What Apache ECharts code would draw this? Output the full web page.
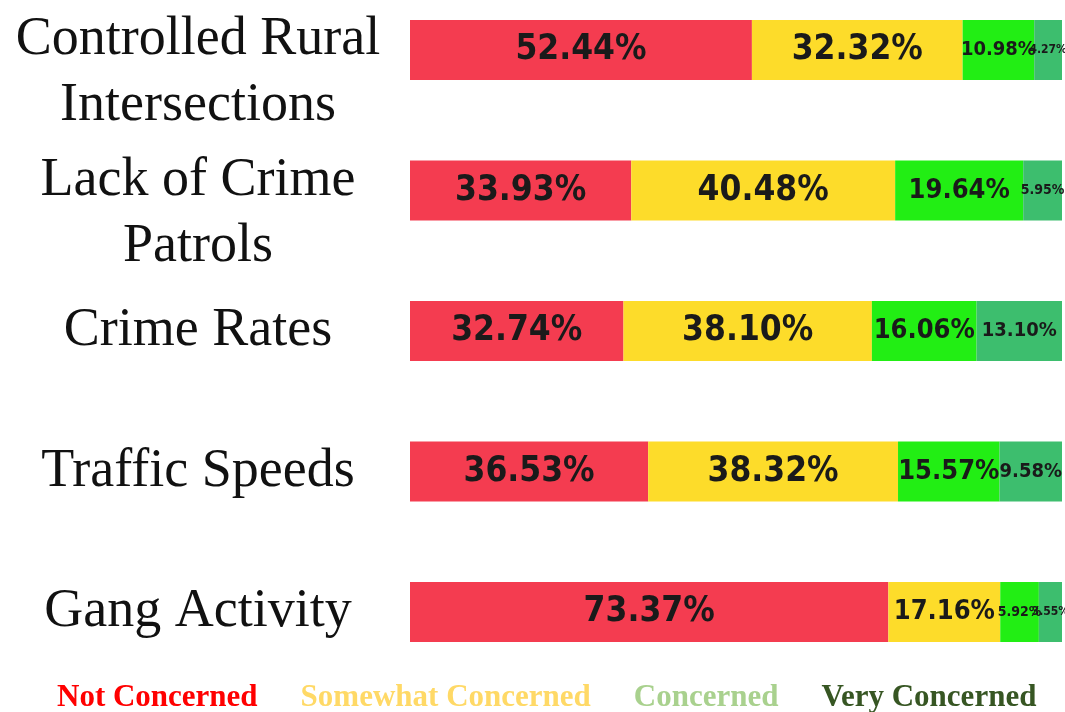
<!DOCTYPE html>
<html>
<head>
<meta charset="utf-8">
<script src="https://cdn.jsdelivr.net/npm/echarts@6/dist/echarts.min.js"></script>
<style>
html,body{margin:0;padding:0;background:#fff;}
#chart{width:1065px;height:712px;}
</style>
</head>
<body>
<div id="chart"></div>
<script>
const categories = ['Controlled Rural\nIntersections', 'Lack of Crime\nPatrols', 'Crime Rates', 'Traffic Speeds', 'Gang Activity'];
const seriesNames = ['Not Concerned', 'Somewhat Concerned', 'Concerned', 'Very Concerned'];
const notConcerned = [52.44, 33.93, 32.74, 36.53, 73.37];
const somewhatConcerned = [32.32, 40.48, 38.10, 38.32, 17.16];
const concerned = [10.98, 19.64, 16.06, 15.57, 5.92];
const veryConcerned = [4.27, 5.95, 13.10, 9.58, 3.55];

const barColors = ['#F43C50', '#FDDC2A', '#22EE14', '#3DBE6E'];
const legendColors = ['#FF0000', '#FFD966', '#A9D18E', '#375623'];
const labelFont = "'DejaVu Sans Condensed', 'DejaVu Sans', sans-serif";
const catFont = "'Liberation Serif', 'DejaVu Serif', serif";

function labelSize(v) {
  if (v >= 30) return 35;
  if (v >= 15) return 27;
  if (v >= 9) return 20;
  if (v >= 5) return 14;
  return 12;
}

const allData = [notConcerned, somewhatConcerned, concerned, veryConcerned];

const chart = echarts.init(document.getElementById('chart'), null, {renderer: 'canvas'});
chart.setOption({
  animation: false,
  backgroundColor: '#fff',
  grid: {left: 410, right: 3, top: 50, bottom: 100, containLabel: false, outerBoundsMode: 'none'},
  xAxis: {type: 'value', min: 0, max: 100, show: false},
  yAxis: {
    type: 'category',
    data: categories,
    inverse: true,
    boundaryGap: false,
    axisLine: {show: false},
    axisTick: {show: false},
    splitLine: {show: false},
    axisLabel: {
      margin: 212,
      interval: 0,
      hideOverlap: false,
      align: 'center',
      fontFamily: catFont,
      fontSize: 54,
      lineHeight: 66,
      color: '#111',
      formatter: v => v.indexOf('\n') >= 0 ? '{pad| }\n' + v : v,
      rich: {
        pad: {height: 46, lineHeight: 46, fontSize: 10}
      }
    }
  },
  legend: {
    top: 677,
    left: 47,
    itemWidth: 0,
    itemHeight: 0,
    itemGap: 38,
    icon: 'rect',
    selectedMode: false,
    data: seriesNames.map((n, i) => ({
      name: n,
      textStyle: {
        color: legendColors[i],
        fontFamily: "'Liberation Serif', serif",
        fontWeight: 'bold',
        fontSize: 31
      }
    }))
  },
  series: seriesNames.map((name, i) => ({
    name: name,
    type: 'bar',
    stack: 'total',
    barWidth: 60,
    itemStyle: {color: barColors[i]},
    data: allData[i].map(v => ({
      value: v,
      label: {fontSize: labelSize(v)}
    })),
    label: {
      show: true,
      position: 'inside',
      color: '#1a1a1a',
      fontFamily: labelFont,
      fontWeight: 'bold',
      formatter: p => p.value.toFixed(2) + '%'
    }
  }))
});
</script>
</body>
</html>
